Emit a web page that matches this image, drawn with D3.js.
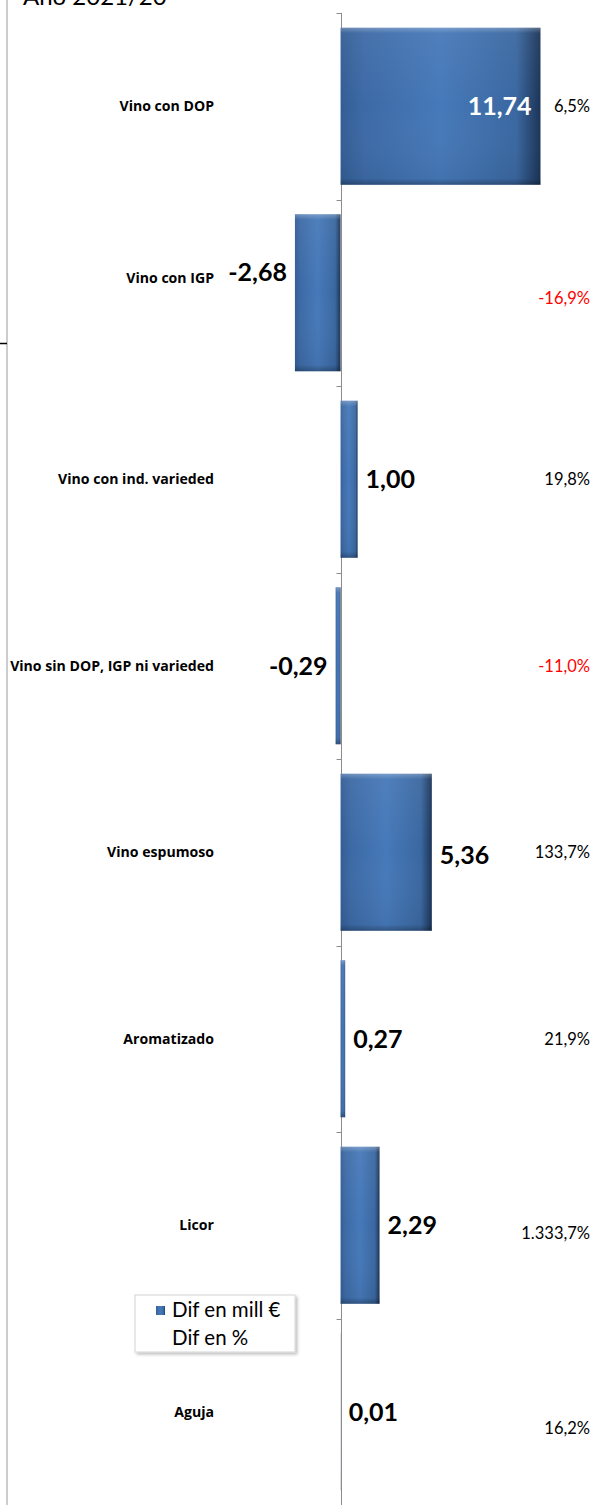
<!DOCTYPE html>
<html>
<head>
<meta charset="utf-8">
<script src="https://d3js.org/d3.v7.min.js"></script>
<style>
  body { margin: 0; background: #fff; }
  svg { display: block; font-family: Lato, "Open Sans", sans-serif; }
</style>
</head>
<body>
<svg id="vis"></svg>
<script>
  // Data
  var categories = ["Vino con DOP", "Vino con IGP", "Vino con ind. varieded",
                    "Vino sin DOP, IGP ni varieded", "Vino espumoso", "Aromatizado",
                    "Licor", "Aguja"];
  var difMill = [11.74, -2.68, 1.00, -0.29, 5.36, 0.27, 2.29, 0.01];
  var difPct = [6.5, -16.9, 19.8, -11.0, 133.7, 21.9, 1333.7, 16.2];
  var seriesNames = ["Dif en mill €", "Dif en %"];
  var title = "Año 2021/20";

  var W = 597, H = 1505;
  var es = d3.formatLocale({decimal: ",", thousands: ".", grouping: [3], currency: ["", "€"], minus: "-"});
  var fmtMill = es.format(",.2f");
  var fmtPct = function(v) { return es.format(",.1f")(v) + "%"; };

  var svg = d3.select("#vis")
      .attr("width", W)
      .attr("height", H);

  var defs = svg.append("defs");
  var g1 = defs.append("linearGradient").attr("id", "barGrad")
      .attr("x1", 0).attr("x2", 1).attr("y1", 0).attr("y2", 0);
  [[0, "#335d95"], [0.12, "#3d6aa6"], [0.5, "#4679b9"], [0.88, "#3a67a0"], [1, "#1b3457"]]
    .forEach(function(s) { g1.append("stop").attr("offset", s[0]).attr("stop-color", s[1]); });
  var g2 = defs.append("linearGradient").attr("id", "bevel")
      .attr("x1", 0).attr("x2", 0).attr("y1", 0).attr("y2", 1);
  [[0, "#ffffff", 0.28], [0.035, "#ffffff", 0.05], [0.5, "#ffffff", 0], [0.96, "#000000", 0.05], [1, "#000000", 0.3]]
    .forEach(function(s) { g2.append("stop").attr("offset", s[0]).attr("stop-color", s[1]).attr("stop-opacity", s[2]); });
  var sh = defs.append("filter").attr("id", "shadow")
      .attr("x", "-10%").attr("y", "-10%").attr("width", "130%").attr("height", "140%");
  sh.append("feDropShadow").attr("dx", 2).attr("dy", 2).attr("stdDeviation", 1.5)
      .attr("flood-color", "#000").attr("flood-opacity", 0.25);

  var xScale = d3.scaleLinear()
      .domain([-20, 15])
      .range([0, 596]);

  var yScale = d3.scaleBand()
      .domain(categories)
      .range([13, H])
      .paddingInner(0.158)
      .paddingOuter(0.079);

  // Title (cut at the top, as in the original)
  svg.append("text")
      .attr("x", 23).attr("y", 5)
      .attr("font-size", 24)
      .attr("fill", "#000")
      .text(title);

  // Left border
  svg.append("line")
      .attr("x1", 7).attr("x2", 7).attr("y1", 0).attr("y2", H)
      .attr("stroke", "#9a9a9a").attr("stroke-width", 1);
  svg.append("line")
      .attr("x1", 0).attr("x2", 7).attr("y1", 343.5).attr("y2", 343.5)
      .attr("stroke", "#000").attr("stroke-width", 1.5);

  // Category axis at zero, ticks at band edges
  var x0 = Math.round(xScale(0)) + 0.5;
  var edges = d3.range(categories.length + 1).map(function(i) { return yScale.range()[0] + i * yScale.step(); });
  svg.append("line")
      .attr("x1", x0).attr("x2", x0).attr("y1", edges[0]).attr("y2", H)
      .attr("stroke", "#8c8c8c");
  svg.selectAll("line.tick")
      .data(edges)
      .enter().append("line")
      .attr("class", "tick")
      .attr("x1", x0 - 5).attr("x2", x0)
      .attr("y1", function(d) { return Math.round(d) + 0.5; })
      .attr("y2", function(d) { return Math.round(d) + 0.5; })
      .attr("stroke", "#8c8c8c");

  // Bars
  var bars = svg.selectAll("g.bar")
      .data(categories)
      .enter().append("g")
      .attr("class", "bar");
  bars.append("rect")
      .attr("x", function(d, i) { return xScale(Math.min(0, difMill[i])); })
      .attr("y", function(d) { return yScale(d); })
      .attr("width", function(d, i) { return Math.abs(xScale(difMill[i]) - xScale(0)); })
      .attr("height", yScale.bandwidth())
      .attr("fill", "url(#barGrad)");
  bars.append("rect")
      .attr("x", function(d, i) { return xScale(Math.min(0, difMill[i])); })
      .attr("y", function(d) { return yScale(d); })
      .attr("width", function(d, i) { return Math.abs(xScale(difMill[i]) - xScale(0)); })
      .attr("height", yScale.bandwidth())
      .attr("fill", "url(#bevel)");

  // Small vertical nudges of labels as they sit in the original
  var catNudge = {"Vino con IGP": -15};
  var valNudge = {"Vino con IGP": -21, "Vino espumoso": 3};
  var pctNudge = {"Vino con IGP": 5, "Licor": 8, "Aguja": 16};
  var mid = function(d) { return yScale(d) + yScale.bandwidth() / 2; };

  // Category labels
  svg.selectAll("text.cat")
      .data(categories)
      .enter().append("text")
      .attr("class", "cat")
      .attr("x", 214)
      .attr("y", function(d) { return mid(d) + (catNudge[d] || 0); })
      .attr("dy", "0.35em")
      .attr("text-anchor", "end")
      .attr("font-family", "'Open Sans', sans-serif")
      .attr("font-size", 14.1)
      .attr("font-weight", "bold")
      .attr("fill", "#000")
      .text(function(d) { return d; });

  // Value labels (mill €)
  svg.selectAll("text.val")
      .data(categories)
      .enter().append("text")
      .attr("class", "val")
      .attr("x", function(d, i) {
        var v = difMill[i];
        if (v > 8) return xScale(v) - 9;
        return v < 0 ? xScale(v) - 8 : xScale(v) + 8;
      })
      .attr("y", function(d) { return mid(d) + (valNudge[d] || 0); })
      .attr("dy", "0.35em")
      .attr("text-anchor", function(d, i) { return (difMill[i] < 0 || difMill[i] > 8) ? "end" : "start"; })
      .attr("font-size", 25)
      .attr("font-weight", "bold")
      .attr("fill", function(d, i) { return difMill[i] > 8 ? "#fff" : "#000"; })
      .text(function(d, i) { return fmtMill(difMill[i]); });

  // Percent labels
  svg.selectAll("text.pct")
      .data(categories)
      .enter().append("text")
      .attr("class", "pct")
      .attr("x", 590)
      .attr("y", function(d) { return mid(d) + (pctNudge[d] || 0); })
      .attr("dy", "0.35em")
      .attr("text-anchor", "end")
      .attr("font-size", 16.5)
      .attr("fill", function(d, i) { return difPct[i] < 0 ? "#ff0000" : "#000"; })
      .text(function(d, i) { return fmtPct(difPct[i]); });

  // Legend
  var legend = svg.append("g").attr("transform", "translate(135,1295)");
  legend.append("rect")
      .attr("width", 160).attr("height", 57)
      .attr("fill", "#fff").attr("stroke", "#d4d4d4")
      .attr("filter", "url(#shadow)");
  legend.append("rect")
      .attr("x", 21).attr("y", 11).attr("width", 9).attr("height", 9)
      .attr("fill", "url(#barGrad)");
  legend.selectAll("text")
      .data(seriesNames)
      .enter().append("text")
      .attr("x", 37)
      .attr("y", function(d, i) { return 15 + i * 28; })
      .attr("dy", "0.35em")
      .attr("font-size", 20.5)
      .attr("fill", "#000")
      .text(function(d) { return d; });
</script>
</body>
</html>
